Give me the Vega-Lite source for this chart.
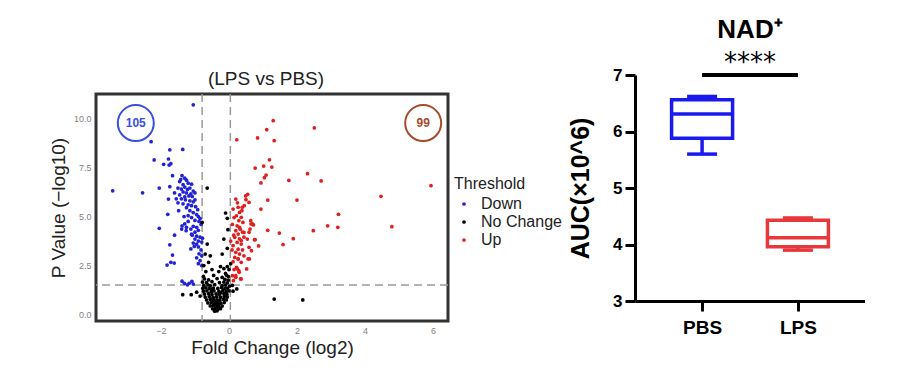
{
  "$schema": "https://vega.github.io/schema/vega-lite/v6.json",
  "background": "white",
  "padding": {"left": 47, "top": 17, "right": 0, "bottom": 0},
  "config": {"font": "Liberation Sans", "view": {"stroke": null}, "axis": {"grid": false}},
  "spacing": 4,
  "resolve": {"scale": {"color": "independent"}, "legend": {"color": "independent"}},
  "hconcat": [
    {
      "width": 352,
      "height": 227,
      "view": {"stroke": "#333333", "strokeWidth": 3},
      "title": {"text": "(LPS vs PBS)", "fontSize": 19, "fontWeight": "normal", "color": "#222222", "offset": 4, "anchor": "middle", "dx": -6},
      "layer": [
        {
          "data": {"values": [{"fc": -0.79}, {"fc": 0.04}]},
          "mark": {"type": "rule", "color": "#9a9a9a", "strokeWidth": 1.5, "strokeDash": [8, 5]},
          "encoding": {"x": {"field": "fc", "type": "quantitative"}}
        },
        {
          "data": {"values": [{"p": 1.51}]},
          "mark": {"type": "rule", "color": "#9a9a9a", "strokeWidth": 1.5, "strokeDash": [8, 5]},
          "encoding": {"y": {"field": "p", "type": "quantitative"}}
        },
        {
          "data": {"values": [
            {"fc": -1.05, "p": 10.69, "t": "Down"}, {"fc": -2.29, "p": 8.81, "t": "Down"}, {"fc": -1.74, "p": 8.40, "t": "Down"}, {"fc": -1.36, "p": 8.42, "t": "Down"},
            {"fc": -2.20, "p": 7.88, "t": "Down"}, {"fc": -1.92, "p": 7.66, "t": "Down"}, {"fc": -1.78, "p": 7.93, "t": "Down"}, {"fc": -1.71, "p": 7.69, "t": "Down"},
            {"fc": -1.76, "p": 7.62, "t": "Down"}, {"fc": -1.66, "p": 7.08, "t": "Down"}, {"fc": -3.42, "p": 6.31, "t": "Down"}, {"fc": -2.54, "p": 6.21, "t": "Down"},
            {"fc": -2.05, "p": 6.45, "t": "Down"}, {"fc": -1.74, "p": 6.52, "t": "Down"}, {"fc": -1.78, "p": 5.89, "t": "Down"}, {"fc": -1.80, "p": 5.11, "t": "Down"},
            {"fc": -2.05, "p": 4.40, "t": "Down"}, {"fc": -1.74, "p": 3.56, "t": "Down"}, {"fc": -1.66, "p": 3.04, "t": "Down"}, {"fc": -1.82, "p": 2.53, "t": "Down"},
            {"fc": -1.71, "p": 2.67, "t": "Down"}, {"fc": -1.61, "p": 2.63, "t": "Down"}, {"fc": -1.38, "p": 1.71, "t": "Down"}, {"fc": -1.31, "p": 1.60, "t": "Down"},
            {"fc": -1.17, "p": 1.60, "t": "Down"}, {"fc": -1.09, "p": 1.70, "t": "Down"}, {"fc": -1.05, "p": 1.56, "t": "Down"}, {"fc": -1.22, "p": 1.52, "t": "Down"},
            {"fc": -1.39, "p": 4.36, "t": "Down"}, {"fc": -1.26, "p": 4.28, "t": "Down"}, {"fc": -1.12, "p": 4.36, "t": "Down"}, {"fc": -1.02, "p": 3.48, "t": "Down"},
            {"fc": -1.38, "p": 7.08, "t": "Down"}, {"fc": -1.30, "p": 6.95, "t": "Down"}, {"fc": -1.25, "p": 6.85, "t": "Down"}, {"fc": -1.45, "p": 6.78, "t": "Down"},
            {"fc": -1.20, "p": 6.70, "t": "Down"}, {"fc": -1.35, "p": 6.62, "t": "Down"}, {"fc": -1.10, "p": 6.65, "t": "Down"}, {"fc": -1.50, "p": 6.45, "t": "Down"},
            {"fc": -1.40, "p": 6.40, "t": "Down"}, {"fc": -1.30, "p": 6.50, "t": "Down"}, {"fc": -1.22, "p": 6.38, "t": "Down"}, {"fc": -1.15, "p": 6.45, "t": "Down"},
            {"fc": -1.05, "p": 6.30, "t": "Down"}, {"fc": -1.35, "p": 6.25, "t": "Down"}, {"fc": -1.25, "p": 6.20, "t": "Down"}, {"fc": -1.12, "p": 6.15, "t": "Down"},
            {"fc": -1.45, "p": 6.10, "t": "Down"}, {"fc": -1.18, "p": 6.05, "t": "Down"}, {"fc": -1.08, "p": 6.02, "t": "Down"}, {"fc": -1.30, "p": 6.00, "t": "Down"},
            {"fc": -1.60, "p": 6.20, "t": "Down"}, {"fc": -1.00, "p": 6.20, "t": "Down"}, {"fc": -1.40, "p": 5.90, "t": "Down"}, {"fc": -1.28, "p": 5.85, "t": "Down"},
            {"fc": -1.15, "p": 5.80, "t": "Down"}, {"fc": -1.05, "p": 5.75, "t": "Down"}, {"fc": -1.35, "p": 5.65, "t": "Down"}, {"fc": -1.20, "p": 5.60, "t": "Down"},
            {"fc": -1.10, "p": 5.55, "t": "Down"}, {"fc": -0.98, "p": 5.50, "t": "Down"}, {"fc": -1.25, "p": 5.45, "t": "Down"}, {"fc": -1.50, "p": 5.70, "t": "Down"},
            {"fc": -1.00, "p": 5.85, "t": "Down"}, {"fc": -1.15, "p": 5.30, "t": "Down"}, {"fc": -1.05, "p": 5.20, "t": "Down"}, {"fc": -0.95, "p": 5.10, "t": "Down"},
            {"fc": -0.90, "p": 5.00, "t": "Down"}, {"fc": -1.10, "p": 4.95, "t": "Down"}, {"fc": -0.85, "p": 4.90, "t": "Down"}, {"fc": -1.00, "p": 4.80, "t": "Down"},
            {"fc": -1.20, "p": 5.05, "t": "Down"}, {"fc": -1.38, "p": 4.52, "t": "Down"}, {"fc": -1.25, "p": 4.45, "t": "Down"}, {"fc": -1.05, "p": 4.50, "t": "Down"},
            {"fc": -0.95, "p": 4.45, "t": "Down"}, {"fc": -0.90, "p": 4.30, "t": "Down"}, {"fc": -1.00, "p": 4.20, "t": "Down"}, {"fc": -0.82, "p": 4.60, "t": "Down"},
            {"fc": -1.30, "p": 4.62, "t": "Down"}, {"fc": -1.10, "p": 4.10, "t": "Down"}, {"fc": -0.95, "p": 4.00, "t": "Down"}, {"fc": -0.85, "p": 3.95, "t": "Down"},
            {"fc": -1.00, "p": 3.85, "t": "Down"}, {"fc": -0.90, "p": 3.75, "t": "Down"}, {"fc": -0.80, "p": 3.70, "t": "Down"}, {"fc": -1.05, "p": 3.65, "t": "Down"},
            {"fc": -0.95, "p": 3.60, "t": "Down"}, {"fc": -0.90, "p": 3.45, "t": "Down"}, {"fc": -0.82, "p": 3.30, "t": "Down"}, {"fc": -0.88, "p": 3.10, "t": "Down"},
            {"fc": -0.80, "p": 3.00, "t": "Down"}, {"fc": -0.95, "p": 2.90, "t": "Down"}, {"fc": -0.85, "p": 2.75, "t": "Down"}, {"fc": -0.90, "p": 2.60, "t": "Down"},
            {"fc": -0.80, "p": 2.50, "t": "Down"}, {"fc": -1.55, "p": 5.90, "t": "Down"}, {"fc": -1.48, "p": 5.30, "t": "Down"}, {"fc": -1.32, "p": 5.00, "t": "Down"},
            {"fc": -1.20, "p": 4.75, "t": "Down"}, {"fc": -0.88, "p": 4.75, "t": "Down"}, {"fc": -1.08, "p": 4.05, "t": "Down"}, {"fc": -0.78, "p": 3.90, "t": "Down"},
            {"fc": -1.12, "p": 3.35, "t": "Down"}, {"fc": -1.60, "p": 4.05, "t": "Down"}, {"fc": -0.92, "p": 5.35, "t": "Down"}, {"fc": -1.42, "p": 6.88, "t": "Down"},

            {"fc": -0.64, "p": 6.45, "t": "No Change"}, {"fc": -0.79, "p": 4.70, "t": "No Change"}, {"fc": -0.10, "p": 5.18, "t": "No Change"}, {"fc": -0.05, "p": 4.91, "t": "No Change"},
            {"fc": -0.03, "p": 4.33, "t": "No Change"}, {"fc": -0.64, "p": 3.60, "t": "No Change"}, {"fc": -0.70, "p": 3.09, "t": "No Change"}, {"fc": -0.55, "p": 3.00, "t": "No Change"},
            {"fc": -0.60, "p": 2.67, "t": "No Change"}, {"fc": -0.15, "p": 3.85, "t": "No Change"}, {"fc": -0.05, "p": 3.38, "t": "No Change"}, {"fc": -0.20, "p": 3.09, "t": "No Change"},
            {"fc": -0.74, "p": 2.50, "t": "No Change"}, {"fc": -0.25, "p": 2.45, "t": "No Change"}, {"fc": -0.15, "p": 2.35, "t": "No Change"}, {"fc": -0.05, "p": 2.45, "t": "No Change"},
            {"fc": 0.00, "p": 2.30, "t": "No Change"}, {"fc": -0.68, "p": 2.20, "t": "No Change"}, {"fc": -0.50, "p": 2.30, "t": "No Change"}, {"fc": -0.10, "p": 2.10, "t": "No Change"},
            {"fc": -0.30, "p": 2.20, "t": "No Change"}, {"fc": -0.75, "p": 1.95, "t": "No Change"}, {"fc": -0.02, "p": 1.95, "t": "No Change"}, {"fc": -0.08, "p": 2.02, "t": "No Change"},
            {"fc": 0.05, "p": 2.60, "t": "No Change"}, {"fc": -0.45, "p": 2.00, "t": "No Change"}, {"fc": -0.20, "p": 1.90, "t": "No Change"}, {"fc": -1.36, "p": 1.02, "t": "No Change"},
            {"fc": -1.11, "p": 1.02, "t": "No Change"}, {"fc": 1.33, "p": 0.80, "t": "No Change"}, {"fc": 2.17, "p": 0.75, "t": "No Change"}, {"fc": 0.23, "p": 1.31, "t": "No Change"},
            {"fc": -0.95, "p": 1.15, "t": "No Change"}, {"fc": -0.85, "p": 0.95, "t": "No Change"}, {"fc": 0.10, "p": 1.50, "t": "No Change"}, {"fc": 0.12, "p": 1.20, "t": "No Change"},
            {"fc": -0.72, "p": 1.82, "t": "No Change"}, {"fc": -0.60, "p": 1.78, "t": "No Change"}, {"fc": -0.35, "p": 1.84, "t": "No Change"}, {"fc": -0.12, "p": 1.80, "t": "No Change"},
            {"fc": -0.02, "p": 1.76, "t": "No Change"}, {"fc": -0.78, "p": 1.66, "t": "No Change"}, {"fc": -0.66, "p": 1.63, "t": "No Change"}, {"fc": -0.50, "p": 1.68, "t": "No Change"},
            {"fc": -0.28, "p": 1.64, "t": "No Change"}, {"fc": -0.15, "p": 1.66, "t": "No Change"}, {"fc": -0.05, "p": 1.62, "t": "No Change"}, {"fc": -0.74, "p": 1.50, "t": "No Change"},
            {"fc": -0.62, "p": 1.52, "t": "No Change"}, {"fc": -0.55, "p": 1.47, "t": "No Change"}, {"fc": -0.42, "p": 1.53, "t": "No Change"}, {"fc": -0.20, "p": 1.48, "t": "No Change"},
            {"fc": -0.10, "p": 1.51, "t": "No Change"}, {"fc": 0.02, "p": 1.46, "t": "No Change"}, {"fc": -0.77, "p": 1.35, "t": "No Change"}, {"fc": -0.68, "p": 1.37, "t": "No Change"},
            {"fc": -0.58, "p": 1.33, "t": "No Change"}, {"fc": -0.46, "p": 1.36, "t": "No Change"}, {"fc": -0.33, "p": 1.34, "t": "No Change"}, {"fc": -0.22, "p": 1.38, "t": "No Change"},
            {"fc": -0.12, "p": 1.33, "t": "No Change"}, {"fc": -0.04, "p": 1.36, "t": "No Change"}, {"fc": -0.75, "p": 1.20, "t": "No Change"}, {"fc": -0.65, "p": 1.22, "t": "No Change"},
            {"fc": -0.52, "p": 1.18, "t": "No Change"}, {"fc": -0.44, "p": 1.21, "t": "No Change"}, {"fc": -0.30, "p": 1.19, "t": "No Change"}, {"fc": -0.18, "p": 1.23, "t": "No Change"},
            {"fc": -0.08, "p": 1.18, "t": "No Change"}, {"fc": 0.00, "p": 1.21, "t": "No Change"}, {"fc": -0.72, "p": 1.05, "t": "No Change"}, {"fc": -0.60, "p": 1.07, "t": "No Change"},
            {"fc": -0.50, "p": 1.03, "t": "No Change"}, {"fc": -0.38, "p": 1.06, "t": "No Change"}, {"fc": -0.28, "p": 1.04, "t": "No Change"}, {"fc": -0.15, "p": 1.08, "t": "No Change"},
            {"fc": -0.06, "p": 1.03, "t": "No Change"}, {"fc": -0.70, "p": 0.90, "t": "No Change"}, {"fc": -0.58, "p": 0.92, "t": "No Change"}, {"fc": -0.47, "p": 0.88, "t": "No Change"},
            {"fc": -0.36, "p": 0.91, "t": "No Change"}, {"fc": -0.25, "p": 0.89, "t": "No Change"}, {"fc": -0.14, "p": 0.93, "t": "No Change"}, {"fc": -0.05, "p": 0.90, "t": "No Change"},
            {"fc": -0.66, "p": 0.75, "t": "No Change"}, {"fc": -0.55, "p": 0.77, "t": "No Change"}, {"fc": -0.45, "p": 0.73, "t": "No Change"}, {"fc": -0.35, "p": 0.76, "t": "No Change"},
            {"fc": -0.27, "p": 0.74, "t": "No Change"}, {"fc": -0.16, "p": 0.78, "t": "No Change"}, {"fc": -0.08, "p": 0.75, "t": "No Change"}, {"fc": -0.62, "p": 0.60, "t": "No Change"},
            {"fc": -0.52, "p": 0.62, "t": "No Change"}, {"fc": -0.42, "p": 0.58, "t": "No Change"}, {"fc": -0.33, "p": 0.61, "t": "No Change"}, {"fc": -0.24, "p": 0.59, "t": "No Change"},
            {"fc": -0.14, "p": 0.62, "t": "No Change"}, {"fc": -0.55, "p": 0.45, "t": "No Change"}, {"fc": -0.46, "p": 0.47, "t": "No Change"}, {"fc": -0.38, "p": 0.43, "t": "No Change"},
            {"fc": -0.30, "p": 0.46, "t": "No Change"}, {"fc": -0.20, "p": 0.44, "t": "No Change"}, {"fc": -0.48, "p": 0.30, "t": "No Change"}, {"fc": -0.40, "p": 0.32, "t": "No Change"},
            {"fc": -0.33, "p": 0.28, "t": "No Change"}, {"fc": -0.25, "p": 0.31, "t": "No Change"}, {"fc": -0.42, "p": 0.18, "t": "No Change"}, {"fc": -0.35, "p": 0.20, "t": "No Change"},
            {"fc": -0.30, "p": 0.38, "t": "No Change"}, {"fc": -0.45, "p": 0.85, "t": "No Change"}, {"fc": -0.38, "p": 0.55, "t": "No Change"}, {"fc": -0.50, "p": 1.30, "t": "No Change"},
            {"fc": -0.25, "p": 1.12, "t": "No Change"}, {"fc": -0.40, "p": 0.68, "t": "No Change"},

            {"fc": 1.30, "p": 9.88, "t": "Up"}, {"fc": 1.11, "p": 9.42, "t": "Up"}, {"fc": 2.51, "p": 9.51, "t": "Up"}, {"fc": 0.23, "p": 8.91, "t": "Up"},
            {"fc": 0.84, "p": 9.00, "t": "Up"}, {"fc": 1.33, "p": 8.86, "t": "Up"}, {"fc": 1.19, "p": 7.89, "t": "Up"}, {"fc": 0.77, "p": 7.47, "t": "Up"},
            {"fc": 1.02, "p": 7.57, "t": "Up"}, {"fc": 1.26, "p": 7.52, "t": "Up"}, {"fc": 1.09, "p": 7.11, "t": "Up"}, {"fc": 1.04, "p": 6.98, "t": "Up"},
            {"fc": 0.94, "p": 6.71, "t": "Up"}, {"fc": 2.31, "p": 7.18, "t": "Up"}, {"fc": 1.76, "p": 6.84, "t": "Up"}, {"fc": 2.71, "p": 6.81, "t": "Up"},
            {"fc": 5.94, "p": 6.57, "t": "Up"}, {"fc": 4.47, "p": 6.03, "t": "Up"}, {"fc": 0.55, "p": 6.13, "t": "Up"}, {"fc": 0.50, "p": 5.86, "t": "Up"},
            {"fc": 1.14, "p": 5.84, "t": "Up"}, {"fc": 2.00, "p": 5.84, "t": "Up"}, {"fc": 0.94, "p": 5.38, "t": "Up"}, {"fc": 3.22, "p": 5.11, "t": "Up"},
            {"fc": 2.90, "p": 4.53, "t": "Up"}, {"fc": 3.20, "p": 4.45, "t": "Up"}, {"fc": 4.79, "p": 4.48, "t": "Up"}, {"fc": 1.14, "p": 4.30, "t": "Up"},
            {"fc": 1.48, "p": 4.16, "t": "Up"}, {"fc": 2.48, "p": 4.28, "t": "Up"}, {"fc": 1.89, "p": 3.87, "t": "Up"}, {"fc": 1.59, "p": 3.57, "t": "Up"},
            {"fc": 0.75, "p": 3.82, "t": "Up"}, {"fc": 0.87, "p": 3.50, "t": "Up"}, {"fc": 0.65, "p": 4.62, "t": "Up"}, {"fc": 0.72, "p": 4.57, "t": "Up"},
            {"fc": 0.59, "p": 4.20, "t": "Up"}, {"fc": 0.60, "p": 2.84, "t": "Up"}, {"fc": 0.52, "p": 2.33, "t": "Up"},
            {"fc": 0.20, "p": 5.89, "t": "Up"}, {"fc": 0.12, "p": 5.38, "t": "Up"}, {"fc": 0.27, "p": 5.47, "t": "Up"}, {"fc": 0.31, "p": 5.21, "t": "Up"},
            {"fc": 0.22, "p": 5.04, "t": "Up"}, {"fc": 0.36, "p": 4.96, "t": "Up"}, {"fc": 0.29, "p": 4.79, "t": "Up"}, {"fc": 0.41, "p": 4.70, "t": "Up"},
            {"fc": 0.24, "p": 4.53, "t": "Up"}, {"fc": 0.31, "p": 4.45, "t": "Up"}, {"fc": 0.20, "p": 4.28, "t": "Up"}, {"fc": 0.27, "p": 4.11, "t": "Up"},
            {"fc": 0.17, "p": 3.94, "t": "Up"}, {"fc": 0.31, "p": 3.86, "t": "Up"}, {"fc": 0.24, "p": 3.68, "t": "Up"}, {"fc": 0.36, "p": 3.60, "t": "Up"},
            {"fc": 0.12, "p": 3.52, "t": "Up"}, {"fc": 0.27, "p": 3.34, "t": "Up"}, {"fc": 0.20, "p": 3.18, "t": "Up"}, {"fc": 0.31, "p": 3.09, "t": "Up"},
            {"fc": 0.17, "p": 2.92, "t": "Up"}, {"fc": 0.27, "p": 2.84, "t": "Up"}, {"fc": 0.36, "p": 2.67, "t": "Up"}, {"fc": 0.22, "p": 2.41, "t": "Up"},
            {"fc": 0.29, "p": 2.24, "t": "Up"}, {"fc": 0.20, "p": 1.99, "t": "Up"}, {"fc": 0.36, "p": 1.82, "t": "Up"}, {"fc": 0.15, "p": 4.95, "t": "Up"},
            {"fc": 0.38, "p": 5.30, "t": "Up"}, {"fc": 0.10, "p": 4.60, "t": "Up"}, {"fc": 0.40, "p": 4.20, "t": "Up"}, {"fc": 0.14, "p": 4.05, "t": "Up"},
            {"fc": 0.44, "p": 3.95, "t": "Up"}, {"fc": 0.09, "p": 3.30, "t": "Up"}, {"fc": 0.40, "p": 3.30, "t": "Up"}, {"fc": 0.12, "p": 2.70, "t": "Up"},
            {"fc": 0.05, "p": 3.75, "t": "Up"}, {"fc": 0.33, "p": 4.35, "t": "Up"}, {"fc": 0.25, "p": 5.70, "t": "Up"}, {"fc": 0.45, "p": 5.55, "t": "Up"},
            {"fc": 0.15, "p": 2.30, "t": "Up"}, {"fc": 0.25, "p": 2.33, "t": "Up"}, {"fc": 0.30, "p": 2.16, "t": "Up"}, {"fc": 0.10, "p": 1.99, "t": "Up"},
            {"fc": 0.20, "p": 1.90, "t": "Up"}, {"fc": 0.34, "p": 1.82, "t": "Up"}, {"fc": 0.13, "p": 1.73, "t": "Up"}, {"fc": 0.49, "p": 6.05, "t": "Up"},
            {"fc": 0.59, "p": 5.72, "t": "Up"}, {"fc": 0.39, "p": 5.47, "t": "Up"}, {"fc": 0.64, "p": 4.79, "t": "Up"}, {"fc": 0.69, "p": 4.62, "t": "Up"},
            {"fc": 0.62, "p": 4.36, "t": "Up"}, {"fc": 0.54, "p": 3.85, "t": "Up"}, {"fc": 0.77, "p": 3.82, "t": "Up"}, {"fc": 0.59, "p": 3.43, "t": "Up"},
            {"fc": 0.66, "p": 3.26, "t": "Up"}, {"fc": 0.56, "p": 2.84, "t": "Up"}, {"fc": 0.44, "p": 4.19, "t": "Up"}, {"fc": 0.36, "p": 3.77, "t": "Up"},
            {"fc": 0.44, "p": 3.00, "t": "Up"}, {"fc": 0.27, "p": 2.84, "t": "Up"}
          ]},
          "mark": {"type": "circle", "size": 14, "opacity": 1},
          "encoding": {
            "x": {"field": "fc", "type": "quantitative", "scale": {"domain": [-3.91, 6.44], "nice": false, "zero": false},
              "axis": {"title": "Fold Change (log2)", "values": [-2, 0, 2, 4, 6], "format": "d", "domain": false, "ticks": false, "labelFontSize": 9, "labelColor": "#7f7f7f", "labelPadding": 5, "titleFontSize": 19, "titleFontWeight": "normal", "titleColor": "#222222", "titlePadding": 3}},
            "y": {"field": "p", "type": "quantitative", "scale": {"domain": [-0.32, 11.24], "nice": false, "zero": false},
              "axis": {"title": "P Value (−log10)", "values": [0, 2.5, 5, 7.5, 10], "format": ".1f", "domain": false, "ticks": false, "labelFontSize": 9, "labelColor": "#7f7f7f", "labelPadding": 5, "titleFontSize": 19, "titleFontWeight": "normal", "titleColor": "#222222", "titlePadding": 5}},
            "color": {"field": "t", "type": "nominal", "scale": {"domain": ["Down", "No Change", "Up"], "range": ["#2323d6", "#000000", "#e01f1f"]},
              "legend": {"title": "Threshold", "orient": "none", "legendX": 358, "legendY": 82, "titleFontSize": 16, "titleFontWeight": "normal", "titleColor": "#222222", "labelFontSize": 16, "labelColor": "#222222", "symbolType": "circle", "symbolSize": 14, "rowPadding": 2, "titlePadding": 4, "labelOffset": 9, "symbolOffset": 2}}
          }
        },
        {
          "data": {"values": [{"fc": -2.74, "p": 9.76, "n": "105"}]},
          "layer": [
            {"mark": {"type": "point", "shape": "circle", "size": 1296, "filled": false, "strokeWidth": 2, "color": "#3a4ee0", "opacity": 1},
             "encoding": {"x": {"field": "fc", "type": "quantitative"}, "y": {"field": "p", "type": "quantitative"}}},
            {"mark": {"type": "text", "fontSize": 12, "fontWeight": "bold", "color": "#3a4ee0"},
             "encoding": {"x": {"field": "fc", "type": "quantitative"}, "y": {"field": "p", "type": "quantitative"}, "text": {"field": "n"}}}
          ]
        },
        {
          "data": {"values": [{"fc": 5.71, "p": 9.76, "n": "99"}]},
          "layer": [
            {"mark": {"type": "point", "shape": "circle", "size": 1296, "filled": false, "strokeWidth": 2, "color": "#a64b2a", "opacity": 1},
             "encoding": {"x": {"field": "fc", "type": "quantitative"}, "y": {"field": "p", "type": "quantitative"}}},
            {"mark": {"type": "text", "fontSize": 12, "fontWeight": "bold", "color": "#a64b2a"},
             "encoding": {"x": {"field": "fc", "type": "quantitative"}, "y": {"field": "p", "type": "quantitative"}, "text": {"field": "n"}}}
          ]
        }
      ]
    },
    {
      "width": 230,
      "height": 207,
      "title": {"text": "NAD⁺", "subtitle": "****", "fontSize": 26, "fontWeight": "bold", "color": "#000000", "subtitleFont": "DejaVu Sans", "subtitleFontSize": 26, "subtitleFontWeight": "normal", "subtitleColor": "#000000", "subtitlePadding": 7, "offset": -10, "anchor": "middle"},
      "layer": [
        {
          "data": {"values": [{"a": "PBS", "b": "LPS", "y": 7}]},
          "mark": {"type": "rule", "color": "#000000", "strokeWidth": 4},
          "encoding": {
            "x": {"field": "a", "type": "nominal"},
            "x2": {"field": "b"},
            "y": {"field": "y", "type": "quantitative"}
          }
        },
        {
          "data": {"values": [
            {"g": "PBS", "lo": 5.60, "q1": 5.88, "med": 6.31, "q3": 6.56, "hi": 6.62},
            {"g": "LPS", "lo": 3.90, "q1": 3.96, "med": 4.12, "q3": 4.43, "hi": 4.47}
          ]},
          "encoding": {
            "x": {"field": "g", "type": "nominal", "sort": null, "scale": {"type": "point", "domain": ["PBS", "LPS"], "padding": 0.7},
              "axis": {"title": null, "labelAngle": 0, "labelAlign": "center", "domainColor": "#000000", "domainWidth": 3, "tickColor": "#000000", "tickWidth": 3, "tickSize": 10, "labelFontSize": 19, "labelFontWeight": "bold", "labelColor": "#000000", "labelPadding": 16}},
            "color": {"field": "g", "type": "nominal", "scale": {"domain": ["PBS", "LPS"], "range": ["#1a1aee", "#e8383c"]}, "legend": null}
          },
          "layer": [
            {"mark": {"type": "rule", "strokeWidth": 3.5},
             "encoding": {"y": {"field": "lo", "type": "quantitative", "scale": {"domain": [3, 7], "range": [207, -19], "nice": false, "zero": false},
               "axis": {"title": "AUC(×10^6)", "values": [3, 4, 5, 6, 7], "format": "d", "domainColor": "#000000", "domainWidth": 3, "tickColor": "#000000", "tickWidth": 3, "tickSize": 10, "labelFontSize": 17, "labelFontWeight": "bold", "labelColor": "#000000", "labelPadding": 3, "titleFontSize": 25, "titleFontWeight": "bold", "titleColor": "#000000", "titlePadding": 19}},
               "y2": {"field": "q1"}}},
            {"mark": {"type": "rule", "strokeWidth": 3.5},
             "encoding": {"y": {"field": "q3", "type": "quantitative"}, "y2": {"field": "hi"}}},
            {"mark": {"type": "bar", "size": 61, "filled": false, "strokeWidth": 3.5},
             "encoding": {"y": {"field": "q1", "type": "quantitative"}, "y2": {"field": "q3"}}},
            {"mark": {"type": "tick", "size": 61, "thickness": 3.5, "opacity": 1},
             "encoding": {"y": {"field": "med", "type": "quantitative"}}},
            {"mark": {"type": "tick", "size": 30, "thickness": 3.5, "opacity": 1},
             "encoding": {"y": {"field": "lo", "type": "quantitative"}}},
            {"mark": {"type": "tick", "size": 30, "thickness": 3.5, "opacity": 1},
             "encoding": {"y": {"field": "hi", "type": "quantitative"}}}
          ]
        }
      ]
    }
  ]
}
